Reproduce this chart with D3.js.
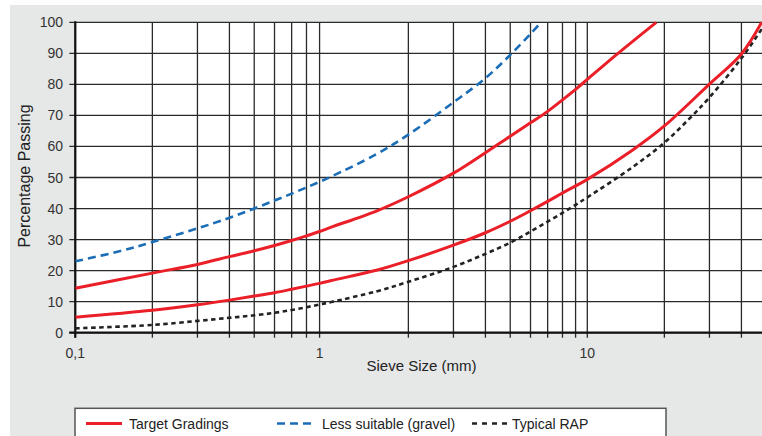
<!DOCTYPE html>
<html>
<head>
<meta charset="utf-8">
<script src="https://cdn.jsdelivr.net/npm/d3@7"></script>
<style>
  html, body { margin: 0; padding: 0; background: #fff; }
  svg { display: block; font-family: "Liberation Sans", Arial, sans-serif; }
</style>
</head>
<body>
<svg id="chart" width="762" height="436"></svg>
<script>
// ---------- data ----------
const lessSuitableSizes  = [0.1, 0.15, 0.2, 0.3, 0.4, 0.5, 0.6, 0.7, 0.8, 0.9, 1, 1.5, 2, 3, 4, 5, 6, 6.6];
const lessSuitableValues = [23, 26.3, 29.2, 33.6, 37, 40, 42.6, 44.8, 46.8, 48.6, 50.3, 57.5, 63.8, 74.2, 82, 89.5, 96.3, 100];

const upperTargetSizes  = [0.1, 0.2, 0.3, 0.4, 0.5, 0.6, 0.7, 0.8, 0.9, 1, 1.5, 2, 3, 4, 5, 6, 7, 8, 9, 10, 13, 18.6];
const upperTargetValues = [14.3, 19.2, 22, 24.5, 26.4, 28.1, 29.7, 31.2, 32.6, 34, 39.2, 43.8, 51.4, 58, 63.3, 67.6, 71.3, 75, 78.4, 81.6, 89.6, 100];

const lowerTargetSizes  = [0.1, 0.2, 0.3, 0.4, 0.5, 0.6, 0.7, 0.8, 0.9, 1, 1.5, 2, 3, 4, 5, 6, 7, 8, 10, 15, 20, 30, 40, 48];
const lowerTargetValues = [5, 7.2, 9, 10.5, 11.8, 12.9, 14, 15, 15.9, 16.8, 20.1, 23.2, 28.2, 32.2, 35.9, 39.3, 42.3, 45, 49.4, 58.8, 66.6, 80.1, 89.8, 100];

const rapSizes  = [0.1, 0.2, 0.3, 0.4, 0.5, 0.6, 0.7, 0.8, 0.9, 1, 1.5, 2, 3, 4, 5, 6, 7, 8, 9, 10, 15, 20, 25, 30, 40, 50];
const rapValues = [1.4, 2.5, 3.8, 4.8, 5.6, 6.4, 7.3, 8.2, 9.1, 9.9, 13.3, 16.4, 21.2, 25.4, 29, 32.6, 35.8, 38.6, 41.2, 43.6, 53.3, 61.2, 68.9, 75.8, 88.4, 100];

// grid lines as drawn in the reference
const xGridValues = [0.1, 0.2, 0.3, 0.4, 0.5, 0.6, 0.7, 0.8, 0.9, 2, 3, 4, 5, 6, 7, 8, 9, 10, 20, 30, 40];
const xTickLabels = ["0,1", "1", "10"];
const xTickLabelPositions = [0.1, 0.9, 10]; // the reference prints "1" under this grid line
const yTickValues = [0, 10, 20, 30, 40, 50, 60, 70, 80, 90, 100];

const legendLabels = ["Target Gradings", "Less suitable (gravel)", "Typical RAP"];

// ---------- layout ----------
const svg = d3.select("#chart");
const W = 762, H = 436;
const pLeft = 75.3, pTop = 22.3, pBottom = 332.7, decade = 256;
const pRight = W;

const x = d3.scaleLog().domain([0.1, 50]).range([pLeft, pLeft + decade * Math.log10(500)]);
const y = d3.scaleLinear().domain([0, 100]).range([pBottom, pTop]);

svg.append("rect").attr("width", W).attr("height", H).attr("fill", "#fff");
svg.append("rect").attr("x", 10).attr("y", 5).attr("width", W - 10).attr("height", H - 5).attr("fill", "#e6e7e7");

svg.append("defs").append("clipPath").attr("id", "plotclip")
  .append("rect").attr("x", pLeft).attr("y", pTop - 3).attr("width", pRight - pLeft).attr("height", pBottom - pTop + 3);

svg.append("rect").attr("x", pLeft).attr("y", pTop).attr("width", pRight - pLeft).attr("height", pBottom - pTop).attr("fill", "#fff");

const grid = svg.append("g").attr("stroke", "#2a2a2a").attr("stroke-width", 1.3);
grid.selectAll("line.v").data(xGridValues).join("line").attr("class", "v")
  .attr("x1", d => x(d)).attr("x2", d => x(d))
  .attr("y1", pTop).attr("y2", pBottom + 5);
grid.selectAll("line.h").data(yTickValues).join("line").attr("class", "h")
  .attr("x1", pLeft - 6).attr("x2", pRight)
  .attr("y1", d => y(d)).attr("y2", d => y(d));

// axes lines
svg.append("line").attr("x1", pLeft).attr("x2", pLeft).attr("y1", pTop - 1).attr("y2", pBottom + 5)
  .attr("stroke", "#111").attr("stroke-width", 2.2);
svg.append("line").attr("x1", pLeft - 6).attr("x2", pRight).attr("y1", pBottom).attr("y2", pBottom)
  .attr("stroke", "#111").attr("stroke-width", 2.2);

// y tick labels
svg.append("g").selectAll("text").data(yTickValues).join("text")
  .attr("x", 63).attr("y", d => y(d) + 5)
  .attr("text-anchor", "end").attr("font-size", 14).attr("fill", "#333")
  .text(d => d);

// x tick labels
svg.append("g").selectAll("text").data(xTickLabels).join("text")
  .attr("x", (d, i) => x(xTickLabelPositions[i])).attr("y", 358)
  .attr("text-anchor", "middle").attr("font-size", 14).attr("fill", "#333")
  .text(d => d);

// axis titles
svg.append("text").attr("x", 421.5).attr("y", 370.5).attr("text-anchor", "middle")
  .attr("font-size", 15).attr("fill", "#222").text("Sieve Size (mm)");
svg.append("text").attr("transform", "translate(30,176) rotate(-90)").attr("text-anchor", "middle")
  .attr("font-size", 16).attr("fill", "#222").text("Percentage Passing");

// ---------- series ----------
const line = d3.line().x(d => x(d[0])).y(d => y(d[1])).curve(d3.curveCatmullRom.alpha(0.5));
const plot = svg.append("g").attr("clip-path", "url(#plotclip)").attr("fill", "none");

const series = [
  { s: rapSizes, v: rapValues, color: "#222", w: 2.6, dash: "4.5,3.5" },
  { s: lessSuitableSizes, v: lessSuitableValues, color: "#1b6db6", w: 2.6, dash: "8,5" },
  { s: lowerTargetSizes, v: lowerTargetValues, color: "#ea1f28", w: 3, dash: null },
  { s: upperTargetSizes, v: upperTargetValues, color: "#ea1f28", w: 3, dash: null }
];
series.forEach(sr => {
  plot.append("path")
    .datum(sr.s.map((d, i) => [d, sr.v[i]]))
    .attr("d", line)
    .attr("stroke", sr.color).attr("stroke-width", sr.w)
    .attr("stroke-dasharray", sr.dash);
});

// ---------- legend ----------
const lg = svg.append("g");
lg.append("rect").attr("x", 75).attr("y", 408.3).attr("width", 591).attr("height", 40)
  .attr("fill", "#fff").attr("stroke", "#555").attr("stroke-width", 1.5);
const legendItems = [
  { x1: 86, x2: 122, tx: 129, color: "#ea1f28", w: 3, dash: null },
  { x1: 277, x2: 312, tx: 322, color: "#1b6db6", w: 2.6, dash: "8,5" },
  { x1: 472, x2: 507, tx: 512, color: "#222", w: 2.6, dash: "5,5" }
];
legendItems.forEach((it, i) => {
  lg.append("line").attr("x1", it.x1).attr("x2", it.x2).attr("y1", 423.5).attr("y2", 423.5)
    .attr("stroke", it.color).attr("stroke-width", it.w).attr("stroke-dasharray", it.dash);
  lg.append("text").attr("x", it.tx).attr("y", 429).attr("font-size", 14).attr("fill", "#222")
    .text(legendLabels[i]);
});
</script>
</body>
</html>
